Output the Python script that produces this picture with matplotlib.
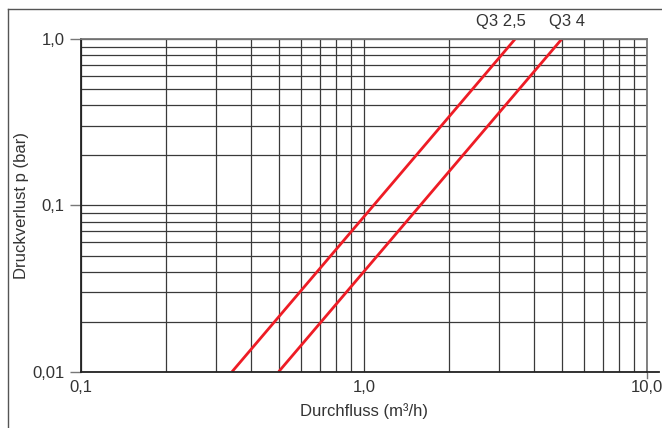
import numpy as np
import matplotlib.pyplot as plt
from matplotlib.lines import Line2D

plt.rcParams['font.family'] = ['Liberation Sans', 'DejaVu Sans']

# two meter sizes (flow m3/h, pressure loss bar)
q25_flow = [0.342, 3.42]
q25_dp = [0.01, 1.0]
q4_flow = [0.5, 5.0]
q4_dp = [0.01, 1.0]
series_names = ['Q3 2,5', 'Q3 4']
label_x = [2.5, 4.5]

x_ticks = [0.1, 1.0, 10.0]
x_ticklabels = ['0,1', '1,0', '10,0']
y_ticks = [0.01, 0.1, 1.0]
y_ticklabels = ['0,01', '0,1', '1,0']

txt = '#333333'
fig = plt.figure(figsize=(6.62, 4.28), dpi=100)
ax = fig.add_axes([81 / 662, 1 - 371.7 / 428, 565.7 / 662, 332.4 / 428])

ax.set_xscale('log')
ax.set_yscale('log')
ax.set_xlim(0.1, 10)
ax.set_ylim(0.01, 1)

ax.plot(q25_flow, q25_dp, color='#ee1c25', lw=2.0, solid_capstyle='butt')
ax.plot(q4_flow, q4_dp, color='#ee1c25', lw=2.0, solid_capstyle='butt')

# series names sit just above the top frame
for name, lx in zip(series_names, label_x):
    ax.text(lx, 1.16, name, ha='left', va='bottom', fontsize=12, color=txt,
            clip_on=False)

ax.set_xticks(x_ticks)
ax.set_xticklabels(x_ticklabels)
ax.set_yticks(y_ticks)
ax.set_yticklabels(y_ticklabels)
ax.xaxis.set_minor_locator(plt.LogLocator(base=10, subs=np.arange(2, 10)))
ax.yaxis.set_minor_locator(plt.LogLocator(base=10, subs=np.arange(2, 10)))
ax.xaxis.set_minor_formatter(plt.NullFormatter())
ax.yaxis.set_minor_formatter(plt.NullFormatter())
ax.grid(which='both', color='#3a3a3a', lw=0.9)
ax.set_axisbelow(True)
ax.tick_params(which='minor', length=0)
ax.tick_params(axis='y', which='major', length=8, width=1, color='#777777',
               labelsize=12, labelcolor=txt, pad=4)
ax.tick_params(axis='x', which='major', length=0, labelsize=12,
               labelcolor=txt, pad=6)

for side in ['left', 'bottom']:
    ax.spines[side].set_color('#222222')
    ax.spines[side].set_linewidth(1.3)
for side in ['top', 'right']:
    ax.spines[side].set_color('#777777')
    ax.spines[side].set_linewidth(1.3)

# bottom axis line runs a little past the last gridline
ax.plot([1, 1.021], [0, 0], transform=ax.transAxes, color='#222222',
        lw=1.3, clip_on=False)
ax.plot([1, 1], [0, -0.02], transform=ax.transAxes, color='#777777',
        lw=1.0, clip_on=False)

ax.set_xlabel('Durchfluss (m³/h)', fontsize=12, color=txt)
ax.xaxis.set_label_coords(0.5, -0.095)
ax.set_ylabel('Druckverlust p (bar)', fontsize=12, color=txt)
ax.yaxis.set_label_coords(-0.092, 0.5)

# outer frame (cut off at right and bottom)
fig.add_artist(Line2D([8.3 / 662, 8.3 / 662], [1 - 9.3 / 428, 0], color='#555555', lw=1.0))
fig.add_artist(Line2D([8.3 / 662, 1], [1 - 9.3 / 428, 1 - 9.3 / 428], color='#555555', lw=1.0))

fig.savefig('out.png', dpi=100)
